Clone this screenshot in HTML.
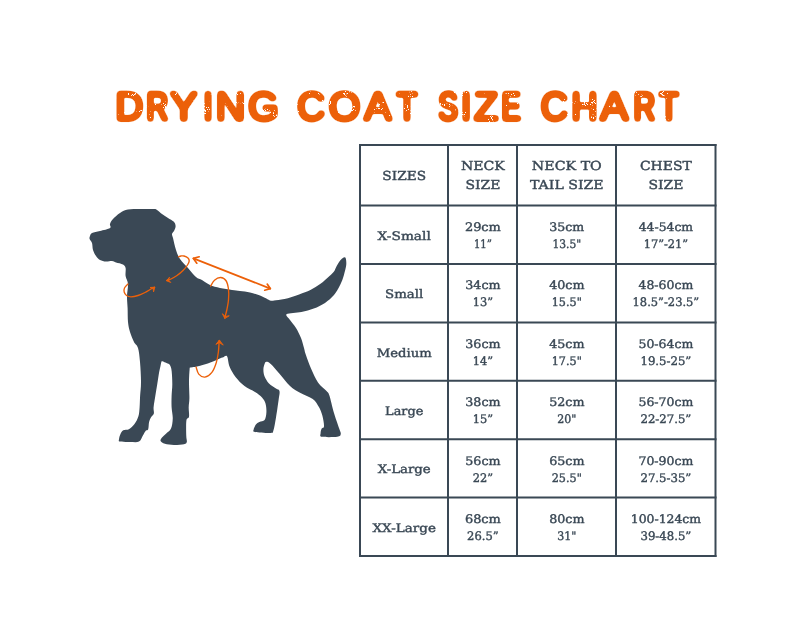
<!DOCTYPE html>
<html lang="en">
<head>
<meta charset="utf-8">
<title>Drying Coat Size Chart</title>
<style>
html,body{margin:0;padding:0;background:#fff;}
body{width:800px;height:640px;overflow:hidden;position:relative;}
svg{position:absolute;left:0;top:0;display:block;}
.title text{text-rendering:geometricPrecision;font-family:"Liberation Sans","DejaVu Sans",sans-serif;font-weight:400;font-size:39.6px;fill:#ec6009;}
.tbl text{text-rendering:geometricPrecision;font-family:"DejaVu Serif","Liberation Serif",serif;fill:#3a4855;text-anchor:middle;stroke:#3a4855;stroke-width:0.4px;vector-effect:non-scaling-stroke;}
.noaa{opacity:0.999;}
.grid line{stroke:#3a4855;stroke-width:2px;}
.arr path{fill:none;stroke:#ec6009;stroke-linecap:round;stroke-linejoin:round;}
.arr .big path{stroke-width:1.7px;}
.arr .sm path{stroke-width:1.35px;}
.arr .hd path{stroke-width:0.9px;fill:#ec6009;}
</style>
</head>
<body>
<svg width="800" height="640" viewBox="0 0 800 640">
<defs>
<filter id="grunge" x="100" y="80" width="600" height="52" filterUnits="userSpaceOnUse" color-interpolation-filters="sRGB">
<feGaussianBlur in="SourceAlpha" stdDeviation="1.8" result="b"/>
<feComponentTransfer in="b" result="fat"><feFuncA type="linear" slope="9" intercept="-0.265"/></feComponentTransfer>
<feFlood flood-color="#ec6009" result="col"/>
<feComposite in="col" in2="fat" operator="in" result="shape"/>
<feTurbulence type="fractalNoise" baseFrequency="0.95" numOctaves="2" seed="11" result="n1"/>
<feTurbulence type="fractalNoise" baseFrequency="0.07 0.12" numOctaves="2" seed="4" result="n2"/>
<feComposite in="n1" in2="n2" operator="arithmetic" k1="1.6" k2="0" k3="0" k4="0" result="mix"/>
<feColorMatrix in="mix" type="matrix" values="0 0 0 0 0  0 0 0 0 0  0 0 0 0 0  0 0 0 16 -10.75" result="holes"/>
<feComposite in="shape" in2="holes" operator="out"/>
</filter>
</defs>
<rect width="800" height="640" fill="#ffffff"/>
<g class="title" filter="url(#grunge)"><text y="120.20"><tspan x="115.55" textLength="27.60" lengthAdjust="spacingAndGlyphs">D</tspan><tspan x="146.42" textLength="21.70" lengthAdjust="spacingAndGlyphs">R</tspan><tspan x="170.07" textLength="27.54" lengthAdjust="spacingAndGlyphs">Y</tspan><tspan x="203.50" textLength="9.01" lengthAdjust="spacingAndGlyphs">I</tspan><tspan x="215.73" textLength="29.53" lengthAdjust="spacingAndGlyphs">N</tspan><tspan x="248.15" textLength="30.40" lengthAdjust="spacingAndGlyphs">G</tspan> <tspan x="297.33" textLength="27.75" lengthAdjust="spacingAndGlyphs">C</tspan><tspan x="328.87" textLength="31.57" lengthAdjust="spacingAndGlyphs">O</tspan><tspan x="364.20" textLength="27.08" lengthAdjust="spacingAndGlyphs">A</tspan><tspan x="396.67" textLength="19.78" lengthAdjust="spacingAndGlyphs">T</tspan> <tspan x="438.40" textLength="19.21" lengthAdjust="spacingAndGlyphs">S</tspan><tspan x="461.10" textLength="10.21" lengthAdjust="spacingAndGlyphs">I</tspan><tspan x="474.06" textLength="24.27" lengthAdjust="spacingAndGlyphs">Z</tspan><tspan x="501.78" textLength="18.73" lengthAdjust="spacingAndGlyphs">E</tspan> <tspan x="540.87" textLength="27.17" lengthAdjust="spacingAndGlyphs">C</tspan><tspan x="571.54" textLength="25.91" lengthAdjust="spacingAndGlyphs">H</tspan><tspan x="600.20" textLength="27.99" lengthAdjust="spacingAndGlyphs">A</tspan><tspan x="633.65" textLength="21.45" lengthAdjust="spacingAndGlyphs">R</tspan><tspan x="659.19" textLength="19.35" lengthAdjust="spacingAndGlyphs">T</tspan></text></g>
<path d="M90.00 236.00C90.40 235.00 90.33 233.83 92.00 233.00C93.67 232.17 97.00 231.83 100.00 231.00C103.00 230.17 108.33 229.17 110.00 228.00C111.67 226.83 109.50 225.50 110.00 224.00C110.50 222.50 111.33 220.83 113.00 219.00C114.67 217.17 117.50 214.57 120.00 213.00C122.50 211.43 124.67 210.27 128.00 209.60C131.33 208.93 135.67 209.10 140.00 209.00C144.33 208.90 151.17 208.83 154.00 209.00C156.83 209.17 155.67 209.17 157.00 210.00C158.33 210.83 160.17 212.67 162.00 214.00C163.83 215.33 166.07 216.73 168.00 218.00C169.93 219.27 172.33 220.27 173.60 221.60C174.87 222.93 175.53 224.43 175.60 226.00C175.67 227.57 174.60 229.67 174.00 231.00C173.40 232.33 172.17 232.83 172.00 234.00C171.83 235.17 172.33 235.33 173.00 238.00C173.67 240.67 174.83 246.50 176.00 250.00C177.17 253.50 178.00 256.00 180.00 259.00C182.00 262.00 185.33 265.00 188.00 268.00C190.67 271.00 193.67 275.00 196.00 277.00C198.33 279.00 199.67 278.67 202.00 280.00C204.33 281.33 207.00 283.67 210.00 285.00C213.00 286.33 216.33 287.17 220.00 288.00C223.67 288.83 228.67 289.50 232.00 290.00C235.33 290.50 237.00 290.60 240.00 291.00C243.00 291.40 246.67 291.63 250.00 292.40C253.33 293.17 257.08 294.47 260.00 295.60C262.92 296.73 265.70 298.35 267.50 299.20C269.30 300.05 269.72 300.48 270.80 300.70C271.88 300.92 271.72 300.78 274.00 300.50C276.28 300.22 280.32 300.02 284.50 299.00C288.68 297.98 294.78 295.90 299.10 294.40C303.42 292.90 306.83 291.77 310.40 290.00C313.97 288.23 317.32 286.10 320.50 283.75C323.68 281.40 327.25 277.96 329.50 275.90C331.75 273.84 332.88 272.90 334.00 271.40C335.12 269.90 335.27 268.59 336.20 266.90C337.13 265.21 338.55 262.68 339.60 261.25C340.65 259.82 341.65 258.96 342.50 258.30C343.35 257.64 344.15 257.25 344.70 257.30C345.25 257.35 345.53 257.75 345.80 258.60C346.07 259.45 346.28 261.00 346.30 262.40C346.32 263.80 346.45 264.38 345.90 267.00C345.35 269.62 344.05 274.93 343.00 278.10C341.95 281.27 341.10 283.18 339.60 286.00C338.10 288.82 336.43 292.18 334.00 295.00C331.57 297.82 328.38 300.65 325.00 302.90C321.62 305.15 317.68 307.00 313.75 308.50C309.82 310.00 305.90 310.97 301.40 311.90C296.90 312.83 288.65 312.75 286.75 314.10C284.85 315.45 288.46 317.68 290.00 320.00C291.54 322.32 294.17 325.00 296.00 328.00C297.83 331.00 299.67 334.67 301.00 338.00C302.33 341.33 303.21 345.25 304.00 348.00C304.79 350.75 304.58 351.08 305.75 354.50C306.92 357.92 308.96 363.83 311.00 368.50C313.04 373.17 315.38 378.71 318.00 382.50C320.62 386.29 324.85 389.07 326.75 391.25C328.65 393.43 328.23 392.10 329.40 395.60C330.57 399.10 332.15 406.85 333.75 412.25C335.35 417.65 337.83 424.38 339.00 428.00C340.17 431.62 341.04 432.54 340.75 434.00C340.46 435.46 340.40 436.29 337.25 436.75C334.10 437.21 324.62 437.33 321.85 436.75C319.08 436.17 320.66 434.56 320.60 433.25C320.54 431.94 320.93 430.07 321.50 428.90C322.07 427.73 323.85 428.44 324.00 426.25C324.15 424.06 323.25 418.96 322.40 415.75C321.55 412.54 320.51 409.79 318.90 407.00C317.29 404.21 315.82 401.33 312.75 399.00C309.68 396.67 304.29 395.17 300.50 393.00C296.71 390.83 293.50 389.21 290.00 386.00C286.50 382.79 282.71 377.42 279.50 373.75C276.29 370.08 272.93 365.98 270.75 364.00C268.57 362.02 267.42 361.85 266.40 361.85C265.38 361.85 265.10 362.74 264.60 364.00C264.10 365.26 263.40 367.33 263.40 369.40C263.40 371.47 263.67 374.07 264.60 376.40C265.53 378.73 267.10 381.37 269.00 383.40C270.90 385.43 274.25 387.29 276.00 388.60C277.75 389.91 279.07 389.35 279.50 391.25C279.93 393.15 279.18 395.62 278.60 400.00C278.02 404.38 276.87 412.40 276.00 417.50C275.13 422.60 274.27 428.03 273.40 430.60C272.52 433.17 273.82 432.68 270.75 432.90C267.68 433.12 257.86 432.42 255.00 431.90C252.14 431.38 253.45 430.98 253.60 429.75C253.75 428.52 254.93 425.81 255.90 424.50C256.87 423.19 257.95 422.65 259.40 421.90C260.85 421.15 263.43 421.61 264.60 420.00C265.77 418.39 266.25 415.00 266.40 412.25C266.55 409.50 266.23 405.98 265.50 403.50C264.77 401.02 263.75 399.32 262.00 397.40C260.25 395.48 257.92 393.90 255.00 392.00C252.08 390.10 247.71 388.46 244.50 386.00C241.29 383.54 238.23 380.46 235.75 377.25C233.27 374.04 231.06 370.25 229.60 366.75C228.14 363.25 228.18 357.77 227.00 356.25C225.82 354.73 224.07 357.08 222.50 357.60C220.93 358.12 220.05 358.42 217.60 359.40C215.15 360.38 211.07 362.35 207.80 363.50C204.53 364.65 200.55 365.67 198.00 366.30C195.45 366.93 193.80 367.08 192.50 367.30C191.20 367.52 190.68 367.23 190.20 367.60C189.72 367.97 189.80 367.10 189.60 369.50C189.40 371.90 189.03 377.25 189.00 382.00C188.97 386.75 189.45 393.79 189.40 398.00C189.35 402.21 188.77 404.12 188.70 407.25C188.63 410.38 189.38 414.57 189.00 416.80C188.62 419.03 186.86 417.50 186.40 420.60C185.94 423.70 186.18 431.82 186.25 435.40C186.32 438.98 187.18 440.64 186.80 442.10C186.43 443.56 186.15 443.68 184.00 444.15C181.85 444.62 177.08 444.96 173.90 444.90C170.72 444.84 167.12 444.45 164.90 443.80C162.68 443.15 161.08 442.03 160.60 441.00C160.12 439.97 161.10 438.82 162.00 437.60C162.90 436.38 164.50 435.20 166.00 433.70C167.50 432.20 169.88 431.13 171.00 428.60C172.12 426.07 172.65 422.06 172.75 418.50C172.85 414.94 171.79 411.00 171.60 407.25C171.41 403.50 171.48 399.79 171.60 396.00C171.72 392.21 172.28 388.58 172.30 384.50C172.32 380.42 172.02 374.58 171.70 371.50C171.38 368.42 170.93 367.28 170.40 366.00C169.87 364.72 169.48 364.43 168.50 363.80C167.52 363.17 165.58 362.62 164.50 362.20C163.42 361.78 162.55 361.23 162.00 361.30C161.45 361.37 161.47 361.73 161.20 362.60C160.93 363.47 160.77 364.77 160.40 366.50C160.03 368.23 159.53 370.00 159.00 373.00C158.47 376.00 157.82 380.67 157.20 384.50C156.58 388.33 155.90 392.21 155.30 396.00C154.70 399.79 153.84 404.35 153.60 407.25C153.36 410.15 154.22 411.81 153.85 413.40C153.48 414.99 152.19 415.38 151.40 416.80C150.61 418.22 149.63 419.83 149.10 421.90C148.57 423.97 148.76 427.74 148.20 429.20C147.64 430.66 146.63 429.62 145.75 430.65C144.87 431.68 144.03 433.57 142.90 435.40C141.78 437.22 141.15 440.50 139.00 441.60C136.85 442.70 133.18 442.00 130.00 442.00C126.82 442.00 121.73 442.05 119.90 441.60C118.07 441.15 118.92 440.53 119.00 439.30C119.08 438.07 119.69 435.75 120.40 434.25C121.11 432.75 121.83 431.14 123.25 430.30C124.67 429.46 127.03 430.23 128.90 429.20C130.78 428.17 132.92 426.26 134.50 424.10C136.08 421.94 137.55 419.06 138.40 416.25C139.25 413.44 139.32 410.62 139.60 407.25C139.88 403.88 139.87 400.21 140.10 396.00C140.33 391.79 141.02 387.67 141.00 382.00C140.98 376.33 140.50 367.67 140.00 362.00C139.50 356.33 139.00 351.33 138.00 348.00C137.00 344.67 135.33 344.67 134.00 342.00C132.67 339.33 131.00 335.33 130.00 332.00C129.00 328.67 128.40 326.00 128.00 322.00C127.60 318.00 127.77 312.33 127.60 308.00C127.43 303.67 126.93 300.00 127.00 296.00C127.07 292.00 128.23 287.33 128.00 284.00C127.77 280.67 126.00 278.67 125.60 276.00C125.20 273.33 126.03 269.93 125.60 268.00C125.17 266.07 124.60 265.33 123.00 264.40C121.40 263.47 117.83 262.97 116.00 262.40C114.17 261.83 113.67 261.13 112.00 261.00C110.33 260.87 108.00 261.77 106.00 261.60C104.00 261.43 101.67 260.93 100.00 260.00C98.33 259.07 97.17 257.67 96.00 256.00C94.83 254.33 93.67 252.17 93.00 250.00C92.33 247.83 92.57 244.83 92.00 243.00C91.43 241.17 89.93 240.17 89.60 239.00C89.27 237.83 89.60 237.00 90.00 236.00Z" fill="#3a4855"/>
<g class="arr"><g class="big"><path d="M193.4 258.4L270.3 288.6"/><path d="M199.2 256.8L193.4 258.4L196.8 263.2"/><path d="M267.2 284.1L270.3 288.6L264.7 290.2"/></g><g class="sm"><path d="M178.50 256.80C178.92 256.67 180.08 256.13 181.00 256.00C181.92 255.87 182.83 255.67 184.00 256.00C185.17 256.33 187.13 257.17 188.00 258.00C188.87 258.83 189.28 259.83 189.20 261.00C189.12 262.17 188.53 263.42 187.50 265.00C186.47 266.58 184.75 268.75 183.00 270.50C181.25 272.25 179.00 274.08 177.00 275.50C175.00 276.92 172.70 278.17 171.00 279.00C169.30 279.83 167.50 280.25 166.80 280.50"/><path d="M128.00 284.00C127.42 284.67 125.13 286.67 124.50 288.00C123.87 289.33 123.87 290.75 124.20 292.00C124.53 293.25 125.37 294.70 126.50 295.50C127.63 296.30 129.08 296.80 131.00 296.80C132.92 296.80 135.67 296.22 138.00 295.50C140.33 294.78 142.83 293.58 145.00 292.50C147.17 291.42 149.42 289.88 151.00 289.00C152.58 288.12 153.92 287.50 154.50 287.20"/><path d="M210.65 286.10C211.29 285.11 212.84 281.58 214.50 280.15C216.16 278.72 218.70 277.44 220.60 277.50C222.50 277.56 224.58 278.54 225.90 280.50C227.22 282.46 228.07 286.04 228.50 289.25C228.93 292.46 228.79 296.25 228.50 299.75C228.21 303.25 227.39 307.19 226.75 310.25C226.11 313.31 225.00 316.79 224.65 318.10"/><path d="M196.10 367.10C196.54 368.27 197.28 372.43 198.75 374.10C200.22 375.77 202.71 377.38 204.90 377.10C207.09 376.82 210.01 374.79 211.90 372.40C213.79 370.01 215.18 366.11 216.25 362.75C217.32 359.39 217.86 355.98 218.35 352.25C218.84 348.52 219.06 342.33 219.20 340.35"/></g><g class="hd"><path d="M166.80 280.50L169.50 277.20L168.40 280.10L170.50 282.20Z"/><path d="M154.50 287.20L150.00 287.50L153.12 288.35L153.50 291.50Z"/><path d="M224.65 318.10L222.40 313.75L225.14 316.45L228.85 315.85Z"/><path d="M219.20 340.35L215.90 344.40L219.30 342.50L222.90 344.90Z"/></g></g>
<g class="grid"><line x1="360" y1="144.0" x2="360" y2="557.0"/><line x1="448" y1="144.0" x2="448" y2="557.0"/><line x1="517" y1="144.0" x2="517" y2="557.0"/><line x1="616" y1="144.0" x2="616" y2="557.0"/><line x1="715.5" y1="144.0" x2="715.5" y2="557.0"/><line x1="359.0" y1="145" x2="716.5" y2="145"/><line x1="359.0" y1="205.6" x2="716.5" y2="205.6"/><line x1="359.0" y1="264" x2="716.5" y2="264"/><line x1="359.0" y1="322.4" x2="716.5" y2="322.4"/><line x1="359.0" y1="380.8" x2="716.5" y2="380.8"/><line x1="359.0" y1="439.2" x2="716.5" y2="439.2"/><line x1="359.0" y1="497.6" x2="716.5" y2="497.6"/><line x1="359.0" y1="556" x2="716.5" y2="556"/></g>
<g class="tbl noaa"><text transform="translate(404.20 179.60) scale(1.105 1)" font-size="12.4">SIZES</text><text transform="translate(482.90 170.00) scale(1.138 1)" font-size="12.4">NECK</text><text transform="translate(482.90 188.70) scale(1.124 1)" font-size="12.4">SIZE</text><text transform="translate(566.80 170.00) scale(1.147 1)" font-size="12.4">NECK TO</text><text transform="translate(566.80 188.70) scale(1.140 1)" font-size="12.4">TAIL SIZE</text><text transform="translate(665.90 170.00) scale(1.128 1)" font-size="12.4">CHEST</text><text transform="translate(665.90 188.70) scale(1.127 1)" font-size="12.4">SIZE</text><text transform="translate(404.20 239.80) scale(1.161 1)" font-size="11.8">X-Small</text><text transform="translate(482.90 231.00) scale(1.097 1)" font-size="11.8">29cm</text><text transform="translate(482.90 248.00) scale(0.855 1)" font-size="11.8">11”</text><text transform="translate(566.80 231.00) scale(1.067 1)" font-size="11.8">35cm</text><text transform="translate(566.80 248.00) scale(0.907 1)" font-size="11.8">13.5&quot;</text><text transform="translate(665.90 231.00) scale(1.052 1)" font-size="11.8">44-54cm</text><text transform="translate(665.90 248.00) scale(0.966 1)" font-size="11.8">17”-21”</text><text transform="translate(404.20 298.20) scale(1.130 1)" font-size="11.8">Small</text><text transform="translate(482.90 289.40) scale(1.076 1)" font-size="11.8">34cm</text><text transform="translate(482.90 306.40) scale(0.964 1)" font-size="11.8">13”</text><text transform="translate(566.80 289.40) scale(1.076 1)" font-size="11.8">40cm</text><text transform="translate(566.80 306.40) scale(0.951 1)" font-size="11.8">15.5&quot;</text><text transform="translate(665.90 289.40) scale(1.058 1)" font-size="11.8">48-60cm</text><text transform="translate(665.90 306.40) scale(0.972 1)" font-size="11.8">18.5”-23.5”</text><text transform="translate(404.20 356.60) scale(1.116 1)" font-size="11.8">Medium</text><text transform="translate(482.90 347.80) scale(1.076 1)" font-size="11.8">36cm</text><text transform="translate(482.90 364.80) scale(0.964 1)" font-size="11.8">14”</text><text transform="translate(566.80 347.80) scale(1.076 1)" font-size="11.8">45cm</text><text transform="translate(566.80 364.80) scale(0.951 1)" font-size="11.8">17.5&quot;</text><text transform="translate(665.90 347.80) scale(1.058 1)" font-size="11.8">50-64cm</text><text transform="translate(665.90 364.80) scale(0.992 1)" font-size="11.8">19.5-25”</text><text transform="translate(404.20 415.00) scale(1.091 1)" font-size="11.8">Large</text><text transform="translate(482.90 406.20) scale(1.076 1)" font-size="11.8">38cm</text><text transform="translate(482.90 423.20) scale(0.964 1)" font-size="11.8">15”</text><text transform="translate(566.80 406.20) scale(1.076 1)" font-size="11.8">52cm</text><text transform="translate(566.80 423.20) scale(0.932 1)" font-size="11.8">20&quot;</text><text transform="translate(665.90 406.20) scale(1.058 1)" font-size="11.8">56-70cm</text><text transform="translate(665.90 423.20) scale(0.992 1)" font-size="11.8">22-27.5”</text><text transform="translate(404.20 473.40) scale(1.129 1)" font-size="11.8">X-Large</text><text transform="translate(482.90 464.60) scale(1.076 1)" font-size="11.8">56cm</text><text transform="translate(482.90 481.60) scale(0.964 1)" font-size="11.8">22”</text><text transform="translate(566.80 464.60) scale(1.076 1)" font-size="11.8">65cm</text><text transform="translate(566.80 481.60) scale(0.951 1)" font-size="11.8">25.5&quot;</text><text transform="translate(665.90 464.60) scale(1.058 1)" font-size="11.8">70-90cm</text><text transform="translate(665.90 481.60) scale(0.992 1)" font-size="11.8">27.5-35”</text><text transform="translate(404.20 531.80) scale(1.144 1)" font-size="11.8">XX-Large</text><text transform="translate(482.90 523.00) scale(1.097 1)" font-size="11.8">68cm</text><text transform="translate(482.90 540.00) scale(0.978 1)" font-size="11.8">26.5”</text><text transform="translate(566.80 523.00) scale(1.076 1)" font-size="11.8">80cm</text><text transform="translate(566.80 540.00) scale(0.932 1)" font-size="11.8">31&quot;</text><text transform="translate(665.90 523.00) scale(1.053 1)" font-size="11.8">100-124cm</text><text transform="translate(665.90 540.00) scale(0.992 1)" font-size="11.8">39-48.5”</text></g>
</svg>
</body>
</html>
